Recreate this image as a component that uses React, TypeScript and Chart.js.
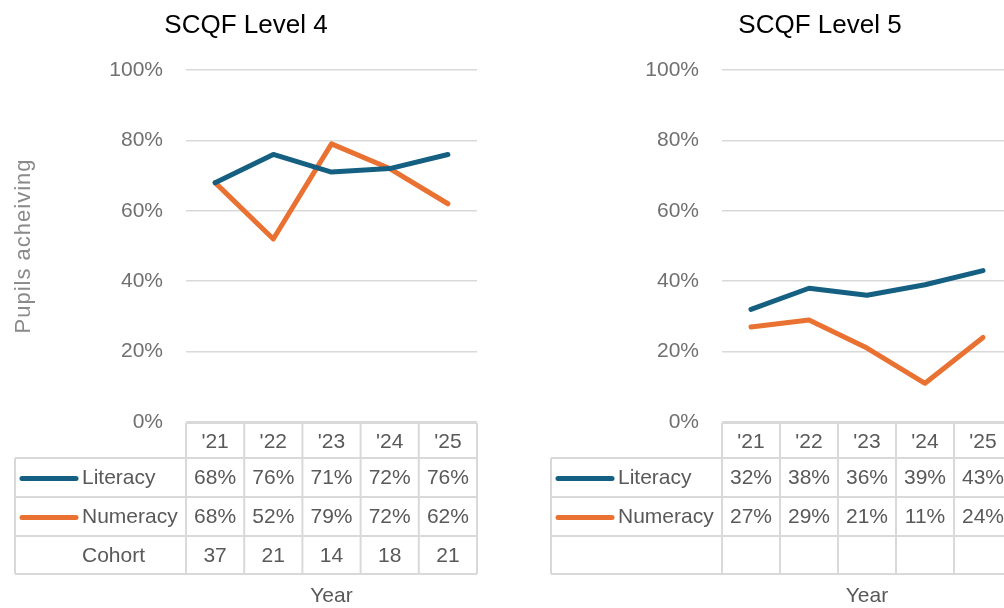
import React, { useEffect, useRef } from 'react';
import { Chart, registerables } from 'chart.js';

Chart.register(...registerables);

// ---- Data ----
const years = ["'21", "'22", "'23", "'24", "'25"];
const level4Literacy = [68, 76, 71, 72, 76];
const level4Numeracy = [68, 52, 79, 72, 62];
const level4Cohort: (number | null)[] = [37, 21, 14, 18, 21];
const level5Literacy = [32, 38, 36, 39, 43];
const level5Numeracy = [27, 29, 21, 11, 24];
const level5Cohort: (number | null)[] = [null, null, null, null, null];
const seriesNames = ['Literacy', 'Numeracy'];
const cohortLabel4 = 'Cohort';
const cohortLabel5 = '';
const yTickValues = [0, 20, 40, 60, 80, 100];
const yAxisTitle = 'Pupils acheiving';
const xAxisTitle = 'Year';

const LIT = '#156082';
const NUM = '#E97132';
const GRID = '#d9d9d9';
const TEXT = '#595959';
const TICK = '#707070';
const FONT = "'Liberation Sans', Arial, sans-serif";

type PanelProps = {
  title: string;
  literacy: number[];
  numeracy: number[];
  cohort: (number | null)[];
  cohortLabel: string;
  showYTitle: boolean;
  canvasLeft: number;
  canvasWidth: number;
  axisWidth: number;
  rightPad: number;
  titleX: number;
};

function Panel(p: PanelProps) {
  const ref = useRef<HTMLCanvasElement>(null);
  useEffect(() => {
    const tablePlugin = {
      id: 'tablePlugin',
      afterDraw(chart: any) {
        const ctx = chart.ctx as CanvasRenderingContext2D;
        const ca = chart.chartArea;
        const xs = chart.scales.x;
        const n = years.length;
        const colW = (ca.right - ca.left) / n;
        const top = ca.bottom + 1;
        const rows = [top, top + 35, top + 74, top + 113, top + 151];
        const legendLeft = ca.left - 171;
        ctx.save();
        // title
        ctx.fillStyle = '#000';
        ctx.font = `26px ${FONT}`;
        ctx.textAlign = 'center';
        ctx.textBaseline = 'alphabetic';
        ctx.fillText(p.title, p.titleX, 33);

        // y title
        if (p.showYTitle) {
          ctx.save();
          ctx.translate(24, (ca.top + ca.bottom) / 2);
          ctx.rotate(-Math.PI / 2);
          ctx.font = `22px ${FONT}`;
          (ctx as any).letterSpacing = '1px';
          ctx.fillStyle = '#8a8a8a';
          ctx.textAlign = 'center';
          ctx.textBaseline = 'middle';
          ctx.fillText(yAxisTitle, 0, 0);
          ctx.restore();
        }

        // table grid
        ctx.strokeStyle = GRID;
        ctx.lineWidth = 2;
        ctx.beginPath();
        ctx.moveTo(ca.left, rows[0]);
        ctx.lineTo(ca.right, rows[0]);
        for (let r = 1; r <= 4; r++) {
          ctx.moveTo(legendLeft, rows[r]);
          ctx.lineTo(ca.right, rows[r]);
        }
        ctx.moveTo(legendLeft, rows[1]);
        ctx.lineTo(legendLeft, rows[4]);
        for (let i = 0; i <= n; i++) {
          const x = ca.left + i * colW;
          ctx.moveTo(x, rows[0]);
          ctx.lineTo(x, rows[4]);
        }
        ctx.stroke();

        // header labels
        ctx.fillStyle = TEXT;
        ctx.font = `21px ${FONT}`;
        ctx.textAlign = 'center';
        ctx.textBaseline = 'middle';
        years.forEach((y, i) => {
          ctx.fillText(y, xs.getPixelForValue(i), (rows[0] + rows[1]) / 2 + 2);
        });
        const rowData: { name: string; color: string | null; vals: string[] }[] = [
          { name: seriesNames[0], color: LIT, vals: p.literacy.map((v) => v + '%') },
          { name: seriesNames[1], color: NUM, vals: p.numeracy.map((v) => v + '%') },
          { name: p.cohortLabel, color: null, vals: p.cohort.map((v) => (v == null ? '' : String(v))) },
        ];
        rowData.forEach((rd, r) => {
          const cy = (rows[r + 1] + rows[r + 2]) / 2 + 1;
          if (rd.color) {
            ctx.strokeStyle = rd.color;
            ctx.lineWidth = 5;
            ctx.lineCap = 'round';
            ctx.beginPath();
            ctx.moveTo(legendLeft + 7, cy);
            ctx.lineTo(legendLeft + 61, cy);
            ctx.stroke();
          }
          ctx.fillStyle = TEXT;
          ctx.textAlign = 'left';
          ctx.fillText(rd.name, legendLeft + 67, cy);
          ctx.textAlign = 'center';
          rd.vals.forEach((v, i) => ctx.fillText(v, xs.getPixelForValue(i), cy));
        });

        // x title
        ctx.font = `21px ${FONT}`;
        ctx.textAlign = 'center';
        ctx.fillText(xAxisTitle, (ca.left + ca.right) / 2, 596);
        ctx.restore();
      },
    };

    const chart = new Chart(ref.current!, {
      type: 'line',
      data: {
        labels: years,
        datasets: [
          {
            label: seriesNames[0],
            data: p.literacy,
            borderColor: LIT,
            backgroundColor: LIT,
            borderWidth: 5,
            pointRadius: 0,
            borderCapStyle: 'round',
            borderJoinStyle: 'round',
            tension: 0,
          },
          {
            label: seriesNames[1],
            data: p.numeracy,
            borderColor: NUM,
            backgroundColor: NUM,
            borderWidth: 5,
            pointRadius: 0,
            borderCapStyle: 'round',
            borderJoinStyle: 'round',
            tension: 0,
          },
        ],
      },
      options: {
        responsive: false,
        animation: false,
        devicePixelRatio: 1,
        layout: { padding: { left: 0, top: 70, right: p.rightPad, bottom: 186 } },
        plugins: { legend: { display: false }, tooltip: { enabled: false }, title: { display: false } },
        scales: {
          x: { type: 'category', display: false, offset: true },
          y: {
            min: 0,
            max: 100,
            afterFit: (s: any) => {
              s.width = p.axisWidth;
            },
            afterBuildTicks: (s: any) => {
              s.ticks = yTickValues.map((v) => ({ value: v }));
            },
            ticks: {
              padding: 23,
              color: TICK,
              font: { family: FONT, size: 21 },
              callback: (v: any) => v + '%',
            },
            grid: { color: GRID, lineWidth: 1.5, drawTicks: false },
            border: { display: false },
          },
        },
      },
      plugins: [tablePlugin],
    } as any);
    return () => chart.destroy();
  }, []);
  return (
    <canvas
      ref={ref}
      width={p.canvasWidth}
      height={608}
      style={{ position: 'absolute', left: p.canvasLeft, top: 0, width: p.canvasWidth, height: 608 }}
    />
  );
}

export default function App() {
  return (
    <div
      style={{
        position: 'fixed',
        left: 0,
        top: 0,
        width: 1004,
        height: 608,
        overflow: 'hidden',
        background: '#fff',
      }}
    >
      <Panel
        title="SCQF Level 4"
        literacy={level4Literacy}
        numeracy={level4Numeracy}
        cohort={level4Cohort}
        cohortLabel={cohortLabel4}
        showYTitle={true}
        canvasLeft={0}
        canvasWidth={500}
        axisWidth={186}
        rightPad={23}
        titleX={246}
      />
      <Panel
        title="SCQF Level 5"
        literacy={level5Literacy}
        numeracy={level5Numeracy}
        cohort={level5Cohort}
        cohortLabel={cohortLabel5}
        showYTitle={false}
        canvasLeft={530}
        canvasWidth={530}
        axisWidth={192}
        rightPad={48}
        titleX={290}
      />
    </div>
  );
}
